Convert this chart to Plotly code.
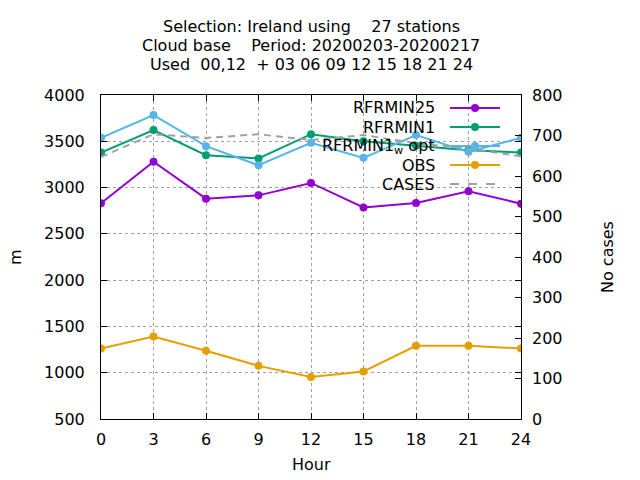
import plotly.graph_objects as go

hours = [0, 3, 6, 9, 12, 15, 18, 21, 24]

rfrmin25 = [2830, 3280, 2880, 2916, 3050, 2785, 2833, 2960, 2826]
rfrmin1 = [3379, 3621, 3350, 3314, 3577, 3500, 3451, 3404, 3379]
rfrmin1_wopt = [3537, 3783, 3447, 3241, 3483, 3321, 3567, 3386, 3537]
obs = [1262, 1392, 1237, 1074, 955, 1013, 1291, 1291, 1262]
cases = [647, 703, 694, 703, 689, 701, 681, 668, 649]

titleLines = [
    "Selection: Ireland using\u00a0\u00a0\u00a0\u00a027 stations",
    "Cloud base\u00a0\u00a0\u00a0\u00a0Period: 20200203-20200217",
    "Used\u00a0\u00a000,12\u00a0\u00a0+ 03 06 09 12 15 18 21 24",
]

FONT = dict(family="DejaVu Sans", size=16, color="black")

# plot box in pixels (gnuplot-like layout)
L, R, T, B = 101, 521, 95, 419
W, H = 640, 480

def px(x):
    return (x - L) / (R - L)

def py(y):
    return (B - y) / (B - T)

series = [
    ("RFRMIN25", rfrmin25, "#9400d3", "y", True),
    ("RFRMIN1", rfrmin1, "#009e73", "y", True),
    ("RFRMIN1<sub>w</sub> opt", rfrmin1_wopt, "#56b4e9", "y", True),
    ("OBS", obs, "#e69f00", "y", True),
    ("CASES", cases, "#a0a0a0", "y2", False),
]

fig = go.Figure()
for name, vals, col, ax, mark in series:
    fig.add_trace(go.Scatter(
        x=hours, y=vals, name=name, yaxis=ax,
        mode="lines+markers" if mark else "lines",
        line=dict(color=col, width=2, dash=None if mark else "7px,5px"),
        marker=dict(color=col, size=8, symbol="circle"),
        showlegend=False,
    ))

annotations = []
shapes = []

# title, three lines
for i, line in enumerate(titleLines):
    annotations.append(dict(
        text=line, x=0.5, y=py(27 + i * 18.5), xref="paper", yref="paper",
        showarrow=False, xanchor="center", yanchor="middle", font=FONT))

# gnuplot-style key: text on the left, sample on the right
for i, (name, vals, col, ax, mark) in enumerate(series):
    yy = py(108 + i * 19)
    annotations.append(dict(
        text=name, x=px(437), y=yy, xref="paper", yref="paper",
        showarrow=False, xanchor="right", yanchor="middle", font=FONT))
    shapes.append(dict(
        type="line", xref="paper", yref="paper",
        x0=px(450), x1=px(500), y0=yy, y1=yy,
        line=dict(color=col, width=2, dash="solid" if mark else "dash")))
    if mark:
        rx, ry = 4 / (R - L), 4 / (B - T)
        shapes.append(dict(
            type="circle", xref="paper", yref="paper",
            x0=px(475) - rx, x1=px(475) + rx, y0=yy - ry, y1=yy + ry,
            fillcolor=col, line=dict(color=col, width=0)))

# axis titles
annotations.append(dict(text="Hour", x=0.5, y=py(464), xref="paper", yref="paper",
                        showarrow=False, xanchor="center", yanchor="middle", font=FONT))
annotations.append(dict(text="m", x=px(15), y=0.5, xref="paper", yref="paper",
                        showarrow=False, textangle=-90, xanchor="center", yanchor="middle", font=FONT))
annotations.append(dict(text="No cases", x=px(607), y=0.5, xref="paper", yref="paper",
                        showarrow=False, textangle=-90, xanchor="center", yanchor="middle", font=FONT))

gridStyle = dict(showgrid=True, gridcolor="#a0a0a0", gridwidth=1, griddash="dot")

fig.update_layout(
    width=W, height=H,
    margin=dict(l=L, r=W - R, t=T, b=H - B, pad=0),
    paper_bgcolor="white", plot_bgcolor="white",
    font=FONT,
    showlegend=False,
    xaxis=dict(range=[0, 24], tickvals=hours, ticks="inside", ticklen=6,
               tickcolor="black", showline=True, linecolor="black", linewidth=1,
               mirror="ticks", zeroline=False, ticklabelstandoff=6, **gridStyle),
    yaxis=dict(range=[500, 4000], dtick=500, ticks="inside", ticklen=6,
               tickcolor="black", showline=True, linecolor="black", linewidth=1,
               mirror="ticks", zeroline=False, ticklabelstandoff=12, **gridStyle),
    yaxis2=dict(range=[0, 800], dtick=100, overlaying="y", side="right",
                ticks="inside", ticklen=6, tickcolor="black", showgrid=False,
                zeroline=False, showline=False, ticklabelstandoff=10),
    annotations=annotations,
    shapes=shapes,
)

# page body has a default margin; drop it so the figure sits at (0, 0)
fig.write_html("out.html", config={"displayModeBar": False},
               post_script="document.body.style.margin='0px';")
